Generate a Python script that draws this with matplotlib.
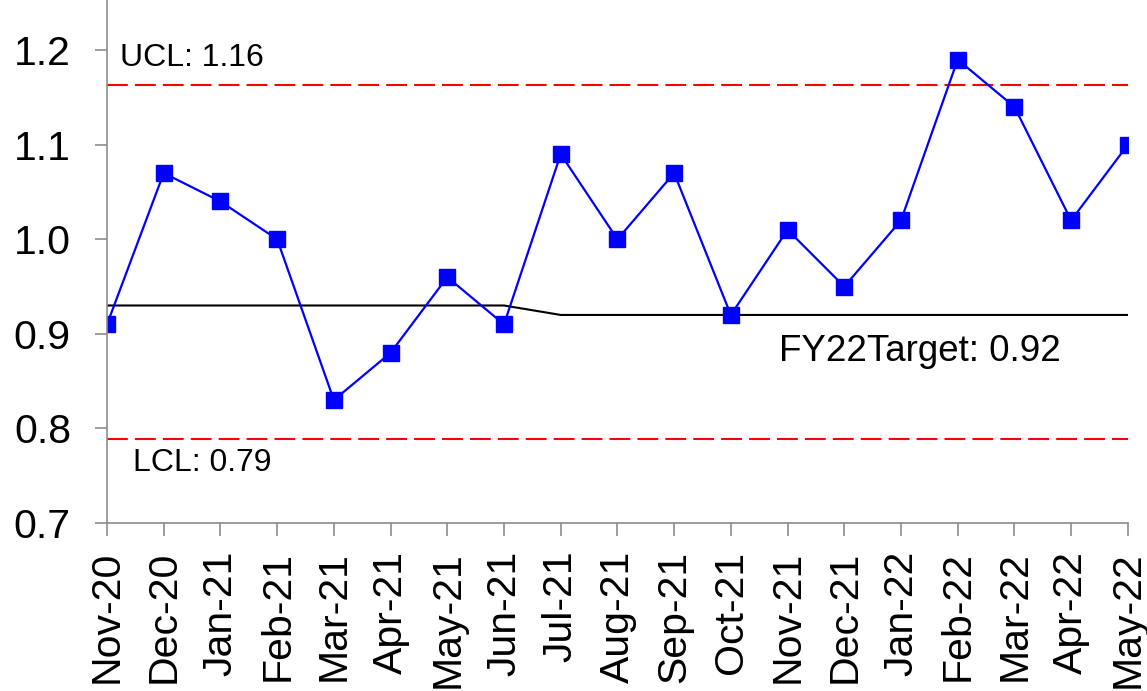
import matplotlib
matplotlib.use("Agg")
import matplotlib.pyplot as plt

plt.rcParams['font.family'] = ['Liberation Sans', 'DejaVu Sans']

months = ["Nov-20", "Dec-20", "Jan-21", "Feb-21", "Mar-21", "Apr-21", "May-21",
          "Jun-21", "Jul-21", "Aug-21", "Sep-21", "Oct-21", "Nov-21", "Dec-21",
          "Jan-22", "Feb-22", "Mar-22", "Apr-22", "May-22"]
values = [0.91, 1.07, 1.04, 1.00, 0.83, 0.88, 0.96, 0.91, 1.09, 1.00, 1.07,
          0.92, 1.01, 0.95, 1.02, 1.19, 1.14, 1.02, 1.10]
target = [0.93, 0.93, 0.93, 0.93, 0.93, 0.93, 0.93, 0.93, 0.92, 0.92, 0.92,
          0.92, 0.92, 0.92, 0.92, 0.92, 0.92, 0.92, 0.92]
ucl = 1.163
lcl = 0.789

fig = plt.figure(figsize=(11.47, 6.91), dpi=100)
ax = fig.add_axes([0.0933, 0.2431, 0.890, 0.7569])

x = list(range(len(months)))
ax.axhline(ucl, color="#ff0000", lw=1.5, dashes=(10, 3.4))
ax.axhline(lcl, color="#ff0000", lw=1.5, dashes=(10, 3.4))
ax.plot(x, target, color="black", lw=1.5)
ax.plot(x, values, color="#0000ff", lw=1.6, marker="s", markersize=11)

ax.text(0.23, 1.1915, "UCL: 1.16", fontsize=23, va="center", ha="left")
ax.text(0.46, 0.763, "LCL: 0.79", fontsize=23, va="center", ha="left")
ax.text(11.85, 0.881, "FY22Target: 0.92", fontsize=26.5, va="center", ha="left")

ax.set_xlim(0, len(months) - 1)
ax.set_ylim(0.7, 1.253)
ax.set_xticks(x)
ax.set_xticklabels(months, rotation=90, fontsize=29.5)
ax.set_yticks([0.7, 0.8, 0.9, 1.0, 1.1, 1.2])
ax.set_yticklabels(["0.7", "0.8", "0.9", "1.0", "1.1", "1.2"], fontsize=29.5)

for side in ["top", "right"]:
    ax.spines[side].set_visible(False)
for side in ["left", "bottom"]:
    ax.spines[side].set_color("#8c8c8c")
    ax.spines[side].set_linewidth(1.2)
ax.tick_params(axis="both", direction="out", length=9, width=1.2, color="#8c8c8c")
ax.tick_params(axis="x", pad=11)
ax.tick_params(axis="y", pad=17)
ax.patch.set_visible(False)

fig.savefig("out.png", dpi=100)
